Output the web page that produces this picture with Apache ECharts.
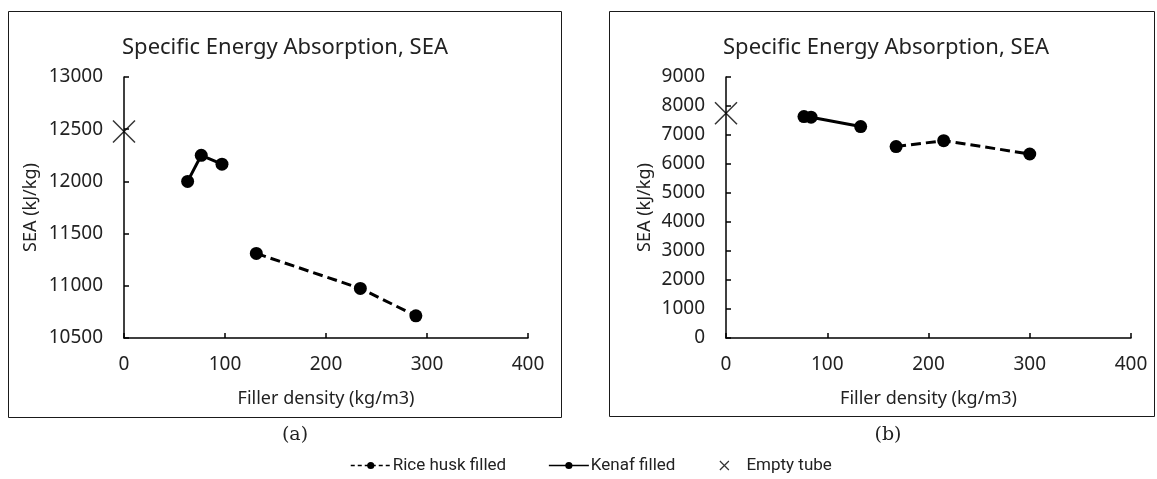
<!DOCTYPE html>
<html>
<head>
<meta charset="utf-8">
<script src="https://cdn.jsdelivr.net/npm/echarts@6/dist/echarts.min.js"></script>
<style>
  html, body { margin: 0; padding: 0; background: #fff; }
  #chart { width: 1157px; height: 479px; }
</style>
</head>
<body>
<div id="chart"></div>
<script>
// panel (a)
const riceA_x = [131, 234, 289];
const riceA_y = [11310, 10975, 10712];
const kenafA_x = [63, 76.5, 97];
const kenafA_y = [12000, 12250, 12165];
const emptyA_x = [0];
const emptyA_y = [12478];

// panel (b)
const riceB_x = [168, 215, 300];
const riceB_y = [6600, 6805, 6345];
const kenafB_x = [77, 84, 133];
const kenafB_y = [7635, 7615, 7290];
const emptyB_x = [0];
const emptyB_y = [7750];

const titleText = 'Specific Energy Absorption, SEA';
const xName = 'Filler density (kg/m3)';
const yName = 'SEA (kJ/kg)';
const panelLabels = ['(a)', '(b)'];
const seriesNames = ['Rice husk filled', 'Kenaf filled', 'Empty tube'];

const pairs = (xs, ys) => xs.map((x, i) => [x, ys[i]]);

const FONT = '"Noto Sans", sans-serif';
const TXT = '#222';
const crossPath = 'path://M0,0L10,10M10,0L0,10';

function xAxisFor(idx) {
  return {
    type: 'value', gridIndex: idx, min: 0, max: 400, interval: 100,
    name: xName, nameLocation: 'middle', nameGap: 52,
    nameTextStyle: { fontFamily: FONT, fontSize: 18, color: TXT },
    axisLine: { show: true, onZero: false, lineStyle: { color: '#000', width: 1.5 } },
    axisTick: { show: true, inside: true, length: 5, lineStyle: { color: '#000', width: 1.5 } },
    axisLabel: { fontFamily: FONT, fontSize: 19, color: TXT, margin: 17, formatter: v => String(v) },
    splitLine: { show: false }
  };
}

function yAxisFor(idx, min, max, step, gap) {
  return {
    type: 'value', gridIndex: idx, min: min, max: max, interval: step,
    name: yName, nameLocation: 'middle', nameGap: gap,
    nameTextStyle: { fontFamily: FONT, fontSize: 18, color: TXT },
    axisLine: { show: true, onZero: false, lineStyle: { color: '#000', width: 1.5 } },
    axisTick: { show: true, inside: true, length: 5, lineStyle: { color: '#000', width: 1.5 } },
    axisLabel: { fontFamily: FONT, fontSize: 19, color: TXT, margin: 21, formatter: v => String(v) },
    splitLine: { show: false }
  };
}

function lineSeries(name, idx, data, dashed) {
  return {
    name: name, type: 'line', xAxisIndex: idx, yAxisIndex: idx, data: data,
    symbol: 'circle', symbolSize: 13, showSymbol: true,
    itemStyle: { color: '#000' },
    lineStyle: { color: '#000', width: 3, type: dashed ? [10, 5] : 'solid' },
    emphasis: { disabled: true }, z: 3
  };
}

function crossSeries(idx, data) {
  return {
    name: seriesNames[2], type: 'scatter', xAxisIndex: idx, yAxisIndex: idx, data: data,
    symbol: crossPath, symbolSize: 22,
    itemStyle: { color: 'none', borderColor: '#000', borderWidth: 1.5 },
    emphasis: { disabled: true }, clip: false, z: 4
  };
}

const chart = echarts.init(document.getElementById('chart'), null, { renderer: 'canvas' });

chart.setOption({
  animation: false,
  backgroundColor: '#fff',
  grid: [
    { left: 124, top: 77, width: 404, height: 261, outerBoundsMode: 'none', containLabel: false },
    { left: 726, top: 77, width: 405, height: 261, outerBoundsMode: 'none', containLabel: false }
  ],
  xAxis: [xAxisFor(0), xAxisFor(1)],
  yAxis: [
    yAxisFor(0, 10500, 13000, 500, 84),
    yAxisFor(1, 0, 9000, 1000, 72)
  ],
  legend: {
    data: [
      { name: seriesNames[0], lineStyle: { width: 1.5, type: [4, 3] } },
      { name: seriesNames[1], lineStyle: { width: 1.5, type: 'solid' } },
      { name: seriesNames[2], itemStyle: { borderWidth: 1.2 } }
    ],
    left: 345, top: 452,
    itemWidth: 40, itemHeight: 9, itemGap: 42,
    textStyle: { fontFamily: 'Roboto, sans-serif', fontSize: 17, color: TXT, padding: [0, 0, 0, -3] },
    selectedMode: false
  },
  graphic: [
    { type: 'rect', shape: { x: 8.5, y: 11.5, width: 553, height: 406 }, style: { fill: 'none', stroke: '#1a1a1a', lineWidth: 1 }, silent: true },
    { type: 'rect', shape: { x: 609.5, y: 11.5, width: 545, height: 405 }, style: { fill: 'none', stroke: '#1a1a1a', lineWidth: 1 }, silent: true },
    { type: 'text', x: 285, y: 48, style: { text: titleText, fontFamily: FONT, fontSize: 22, fill: TXT, textAlign: 'center', textVerticalAlign: 'middle' }, silent: true },
    { type: 'text', x: 886, y: 48, style: { text: titleText, fontFamily: FONT, fontSize: 22, fill: TXT, textAlign: 'center', textVerticalAlign: 'middle' }, silent: true },
    { type: 'text', x: 295, y: 435, style: { text: panelLabels[0], fontFamily: '"DejaVu Serif", serif', fontSize: 19, fill: TXT, textAlign: 'center', textVerticalAlign: 'middle' }, silent: true },
    { type: 'text', x: 888, y: 435, style: { text: panelLabels[1], fontFamily: '"DejaVu Serif", serif', fontSize: 19, fill: TXT, textAlign: 'center', textVerticalAlign: 'middle' }, silent: true }
  ],
  series: [
    lineSeries(seriesNames[0], 0, pairs(riceA_x, riceA_y), true),
    lineSeries(seriesNames[1], 0, pairs(kenafA_x, kenafA_y), false),
    crossSeries(0, pairs(emptyA_x, emptyA_y)),
    lineSeries(seriesNames[0], 1, pairs(riceB_x, riceB_y), true),
    lineSeries(seriesNames[1], 1, pairs(kenafB_x, kenafB_y), false),
    crossSeries(1, pairs(emptyB_x, emptyB_y))
  ]
});
</script>
</body>
</html>
